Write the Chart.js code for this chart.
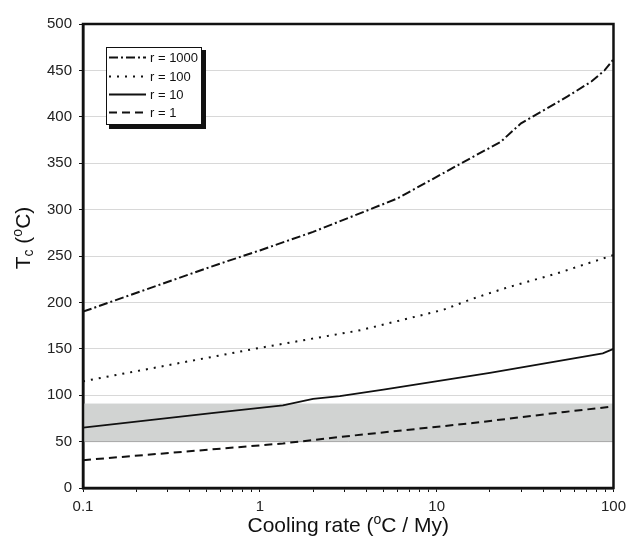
<!DOCTYPE html>
<html>
<head>
<meta charset="utf-8">
<script src="https://cdn.jsdelivr.net/npm/chart.js@4.4.1/dist/chart.umd.min.js"></script>
<style>
  body { margin: 0; background: #fff; }
  #wrap { width: 632px; height: 543px; }
</style>
</head>
<body>
<div id="wrap"><canvas id="grafico" width="632" height="543"></canvas></div>
<script>
// Valores (eixo x em escala log)
const r1000X = [0.1, 0.3, 0.6, 1, 2, 6, 13.5, 23, 30, 55, 75, 89, 100];
const r1000Y = [190, 222, 242, 256, 276, 312, 349, 373, 393, 422, 438, 450, 462];

const r100X = [0.1, 1, 3.7, 10.9, 16, 25, 47.5, 100];
const r100Y = [115, 151, 170, 192, 204, 216, 231, 251];

const r10X = [0.1, 0.55, 1.35, 2, 2.83, 5, 20, 87, 100];
const r10Y = [65, 81, 89, 96, 99, 106, 124, 145, 150];

const r1X = [0.1, 1.35, 2.83, 16, 53, 91, 100];
const r1Y = [30, 48, 55, 70, 82, 87, 88];

const seriesLabels = ['r = 1000', 'r = 100', 'r = 10', 'r = 1'];
const xMajors = [0.1, 1, 10, 100];
const xTickLabels = ['0.1', '1', '10', '100'];
const bandLow = 50;
const bandHigh = 91;

const FONT = "'Liberation Sans', Arial, sans-serif";

function pts(xs, ys) {
    return xs.map((x, i) => ({ x: x, y: ys[i] }));
}

// ticks menores do eixo log: 1..9 de cada década
const xTickValues = [];
[0.1, 1, 10].forEach(d => {
    for (let m = 1; m <= 9; m++) xTickValues.push(+(m * d).toPrecision(3));
});
xTickValues.push(100);

const estilos = [
    { dash: [9, 3, 2, 3], width: 2 },
    { dash: [2, 6], width: 2 },
    { dash: [], width: 1.8 },
    { dash: [8, 5], width: 2 }
];

// faixa cinza + moldura
const faixa = {
    id: 'faixa',
    beforeDatasetsDraw(chart) {
        const { ctx, chartArea: a, scales: { y } } = chart;
        const y1 = y.getPixelForValue(bandHigh);
        const y0 = y.getPixelForValue(bandLow);
        ctx.save();
        ctx.fillStyle = '#d1d3d2';
        ctx.fillRect(a.left, y1, a.right - a.left, y0 - y1);
        ctx.strokeStyle = '#a8a8a8';
        ctx.lineWidth = 1;
        ctx.beginPath();
        ctx.moveTo(a.left, y0);
        ctx.lineTo(a.right, y0);
        ctx.stroke();
        ctx.restore();
    },
    afterDatasetsDraw(chart) {
        const { ctx, chartArea: a } = chart;
        ctx.save();
        ctx.strokeStyle = '#111';
        ctx.lineWidth = 2.5;
        ctx.strokeRect(a.left, a.top, a.right - a.left, a.bottom - a.top);
        ctx.restore();
    }
};

// legenda com sombra e títulos com sobrescrito/subscrito
const extras = {
    id: 'extras',
    afterDraw(chart) {
        const ctx = chart.ctx;
        ctx.save();
        // legenda
        ctx.fillStyle = '#111';
        ctx.fillRect(109, 50, 97, 79);
        ctx.fillStyle = '#fff';
        ctx.fillRect(106, 47, 96, 78);
        ctx.strokeStyle = '#111';
        ctx.lineWidth = 1;
        ctx.strokeRect(106.5, 47.5, 95, 77);
        const rows = [57.5, 76.5, 94.5, 112.5];
        ctx.font = '13px ' + FONT;
        ctx.textBaseline = 'middle';
        chart.data.datasets.forEach((ds, i) => {
            ctx.beginPath();
            ctx.setLineDash(ds.borderDash);
            ctx.lineWidth = ds.borderWidth;
            ctx.strokeStyle = ds.borderColor;
            ctx.moveTo(109, rows[i]);
            ctx.lineTo(146, rows[i]);
            ctx.stroke();
            ctx.setLineDash([]);
            ctx.fillStyle = '#111';
            ctx.fillText(ds.label, 150, rows[i] + 0.5);
        });

        // título do eixo x
        const a = chart.chartArea;
        ctx.textBaseline = 'alphabetic';
        ctx.fillStyle = '#111';
        const big = '21px ' + FONT, small = '14px ' + FONT;
        const partesX = [['Cooling rate (', big, 0], ['o', small, -8], ['C / My)', big, 0]];
        let w = 0;
        partesX.forEach(p => { ctx.font = p[1]; w += ctx.measureText(p[0]).width; });
        let x = (a.left + a.right) / 2 - w / 2;
        partesX.forEach(p => {
            ctx.font = p[1];
            ctx.fillText(p[0], x, 532 + p[2]);
            x += ctx.measureText(p[0]).width;
        });

        // título do eixo y
        const partesY = [['T', big, 0], ['c', small, 3], [' (', big, 0], ['o', small, -8], ['C)', big, 0]];
        w = 0;
        partesY.forEach(p => { ctx.font = p[1]; w += ctx.measureText(p[0]).width; });
        ctx.translate(30, 238);
        ctx.rotate(-Math.PI / 2);
        x = -w / 2;
        partesY.forEach(p => {
            ctx.font = p[1];
            ctx.fillText(p[0], x, p[2]);
            x += ctx.measureText(p[0]).width;
        });
        ctx.restore();
    }
};

const ctx = document.getElementById('grafico');
new Chart(ctx, {
    type: 'line',
    data: {
        datasets: [
            pts(r1000X, r1000Y),
            pts(r100X, r100Y),
            pts(r10X, r10Y),
            pts(r1X, r1Y)
        ].map((d, i) => ({
            label: seriesLabels[i],
            data: d,
            borderColor: '#111',
            borderWidth: estilos[i].width,
            borderDash: estilos[i].dash,
            pointRadius: 0,
            tension: 0,
            fill: false
        }))
    },
    options: {
        responsive: false,
        animation: false,
        layout: { padding: { left: 0, right: 18, top: 24, bottom: 0 } },
        plugins: { legend: { display: false }, tooltip: { enabled: false } },
        scales: {
            x: {
                type: 'logarithmic',
                min: 0.1,
                max: 100,
                afterBuildTicks: s => { s.ticks = xTickValues.map(v => ({ value: v })); },
                afterFit: s => { s.height = 55; },
                grid: { drawOnChartArea: false, tickLength: 4, tickColor: '#111', lineWidth: 1 },
                border: { color: '#111', width: 2.5 },
                ticks: {
                    autoSkip: false,
                    maxRotation: 0,
                    padding: 6,
                    color: '#222',
                    font: { size: 15, family: FONT },
                    callback: v => {
                        const i = xMajors.indexOf(v);
                        return i >= 0 ? xTickLabels[i] : '';
                    }
                }
            },
            y: {
                min: 0,
                max: 500,
                afterFit: s => { s.width = 83; },
                grid: { color: '#d8d8d8', tickColor: '#111', tickLength: 4, lineWidth: 1 },
                border: { color: '#111', width: 2.5 },
                ticks: {
                    stepSize: 50,
                    padding: 7,
                    color: '#222',
                    font: { size: 15, family: FONT }
                }
            }
        }
    },
    plugins: [faixa, extras]
});
</script>
</body>
</html>
